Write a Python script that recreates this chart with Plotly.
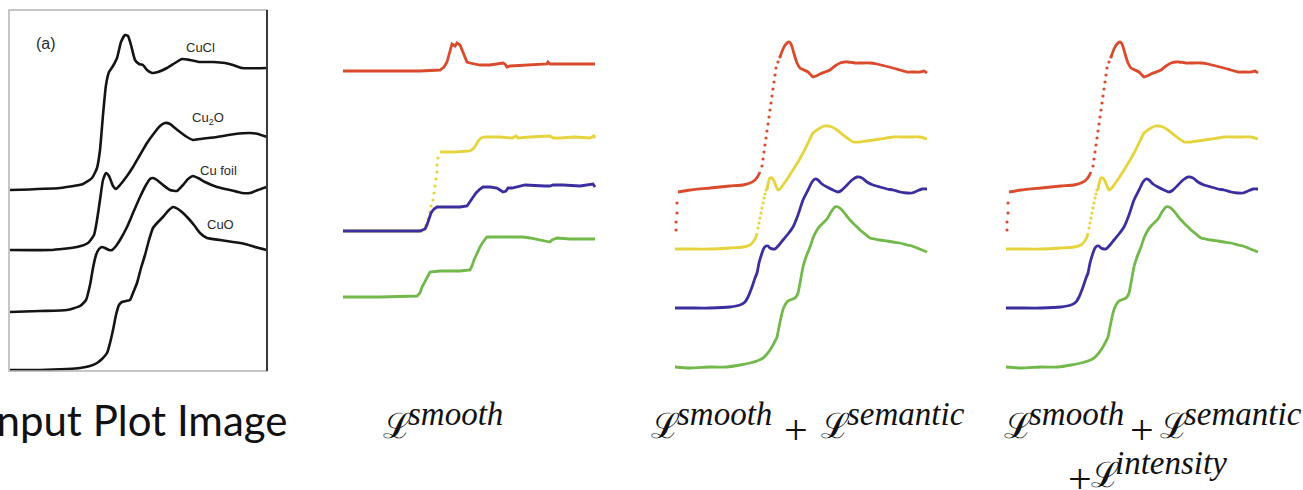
import plotly.graph_objects as go

W, H = 1303, 490

# ---------------- Panel 1: input plot (energy a.u. vs absorbance a.u.) ----------------
cucl_x = [10,60,83,92,97,100,103,106,109,113,117,121,125,128,131,135,139,143,147,152,158,167,175,182,190,200,213,225,233,242,267]
cucl_y = [190,192,196,202,212,230,265,295,308,314,322,338,345,344,335,320,316,315,310,307,308,312,317,321,320,318,318,317,315,312,312]

cu2o_x = [10,50,77,88,94,97,100,103,106,109,113,116,120,127,133,140,147,155,160,165,170,175,180,187,193,200,217,235,250,258,267]
cu2o_y = [130,130,133,137,145,160,180,200,207,204,194,191,195,204,213,225,237,248,254,257,256,252,248,243,240,241,243,246,247,246,243]

cufoil_x = [10,40,67,80,86,90,93,96,99,102,105,109,112,116,120,127,133,140,146,150,153,157,163,170,177,183,188,193,198,205,217,230,242,250,258,267]
cufoil_y = [68,69,70,74,80,95,112,125,131,133,132,130,130,134,140,153,167,183,195,201,202,200,195,190,189,195,201,204,202,198,193,190,187,187,190,193]

cuo_x = [10,40,67,80,90,97,102,107,110,113,116,119,122,126,130,133,137,141,145,149,153,158,163,168,173,178,183,188,194,200,207,220,233,245,255,267]
cuo_y = [10,10,11,12,14,17,21,27,37,50,65,75,78,79,80,87,97,112,125,140,152,158,163,169,173,171,167,162,155,147,142,140,138,136,133,130]

panel1_labels = ["(a)", "CuCl", "Cu<sub>2</sub>O", "Cu foil", "CuO"]

# ---------------- Panel 2: L_smooth ----------------
p2_red_x = [13,50,90,110,114,117,120,122,125,127,130,132,135,137,140,150,160,173,175,177,180,200,217,218,220,233,265]
p2_red_y = [309,309,309,310,313,318,330,336,334,337,335,330,323,318,317,315,315,317,316,313,314,315,316,318,316,316,316]

p2_yel_a_x = [13,50,93]
p2_yel_a_y = [149,149,149]
p2_yel_dots_x = [96,98,100,101,103,104,105,106,107,107,108]
p2_yel_dots_y = [155,161,168,174,180,187,194,201,208,215,222]
p2_yel_b_x = [110,125,140,143,146,148,151,155,170,182,186,188,200,217,220,223,230,245,260,264,265]
p2_yel_b_y = [228,228,229,231,235,239,242,243,243,242,244,242,243,244,244,242,242,243,242,244,242]

p2_blu_x = [13,50,90,95,97,99,101,104,107,120,130,137,140,143,146,150,153,160,167,170,173,176,178,182,190,195,215,220,223,233,250,260,263,265]
p2_blu_y = [149,149,149,151,155,161,167,171,173,173,173,174,178,183,187,191,193,193,192,190,188,189,192,192,194,195,194,194,195,195,194,195,196,193]

p2_grn_x = [13,50,87,90,92,95,98,100,110,130,140,142,144,147,150,153,157,170,193,200,210,220,222,227,240,265]
p2_grn_y = [83,83,84,87,93,99,105,108,109,109,110,114,120,127,133,138,143,143,143,142,140,138,140,142,141,141]

# ---------------- Panels 3 & 4: L_smooth + L_semantic (+ L_intensity) ----------------
p3_red_a_x = [18,30,50,70,83,90,95,98,100]
p3_red_a_y = [188,190,192,194,195,197,200,204,208]
p3_red_dots_x = [102,103,104,105,106,107,108,109,110,111,112,113,114,115,116,118,120]
p3_red_dots_y = [214,221,228,235,242,249,256,263,270,277,284,291,298,305,312,318,323]
p3_red_b_x = [120,123,126,129,131,133,135,137,140,144,148,151,153,156,160,165,170,175,180,185,188,195,200,210,217,225,233,240,247,253,260,264,267]
p3_red_b_y = [323,331,336,338,336,330,323,317,312,310,308,305,303,304,306,308,310,314,317,318,318,317,317,317,316,314,312,310,308,308,308,309,307]
p3_red_iso_x = [17,17,16,16]
p3_red_iso_y = [177,167,158,150]

p3_yel_a_x = [15,30,50,70,83,90,93,96,97]
p3_yel_a_y = [131,131,131,132,133,135,138,143,147]
p3_yel_dots_x = [98,99,100,101,102,103,104,105,106]
p3_yel_dots_y = [152,157,162,167,172,177,182,186,190]
p3_yel_b_x = [107,108,110,112,114,116,118,120,123,128,133,138,143,148,153,157,160,164,168,172,177,182,187,193,200,207,220,233,245,253,260,267]
p3_yel_b_y = [190,196,202,202,199,194,190,191,195,202,210,218,227,237,247,250,252,254,254,253,250,246,242,238,238,239,241,243,243,243,243,241]

p3_blu_x = [15,30,50,70,80,85,88,92,95,97,99,102,104,106,108,110,113,115,119,123,128,133,138,143,148,152,155,158,162,167,173,178,182,187,192,197,202,207,213,220,227,233,240,247,252,257,262,267]
p3_blu_y = [72,72,72,73,75,78,83,93,102,107,117,127,132,134,134,132,131,131,135,140,146,153,165,180,190,198,201,200,196,193,190,188,190,195,200,203,202,198,195,193,191,190,188,187,187,189,191,191]

p3_grn_x = [15,30,50,67,80,90,97,103,107,110,113,117,119,122,124,127,130,133,136,138,140,143,146,150,153,157,160,163,167,171,175,178,182,186,190,195,200,205,210,215,220,227,233,240,247,252,257,262,267]
p3_grn_y = [13,12,13,13,15,17,19,22,26,30,35,43,53,67,73,78,80,81,83,87,97,113,123,133,142,150,154,157,161,168,173,173,170,165,160,155,150,146,142,141,140,139,138,137,135,134,132,130,128]

# caption pieces: (kind, text, left pixel, row)
caption_pieces = [
    ("L", "ℒ", 382, 0), ("sup", "smooth", 407, 0),
    ("L", "ℒ", 650, 0), ("sup", "smooth", 676, 0), ("op", "+", 783, 0), ("L", "ℒ", 820, 0), ("sup", "semantic", 846, 0),
    ("L", "ℒ", 1003, 0), ("sup", "smooth", 1028, 0), ("op", "+", 1129, 0), ("L", "ℒ", 1159, 0), ("sup", "semantic", 1183, 0),
    ("op", "+", 1067, 1), ("L", "ℒ", 1090, 1), ("sup", "intensity", 1114, 1),
]

RED, YEL, BLU, GRN = "#da4a2c", "#e6d43e", "#3b2f9f", "#72b84b"

fig = go.Figure()


def line(x, y, color, ax, width=2.8, shape="spline"):
    fig.add_trace(go.Scatter(x=x, y=y, mode="lines", xaxis="x" + ax, yaxis="y" + ax,
                             line=dict(color=color, width=width, shape=shape, smoothing=0.5),
                             hoverinfo="skip", showlegend=False))


def dots(x, y, color, ax, size=3.2):
    fig.add_trace(go.Scatter(x=x, y=y, mode="markers", xaxis="x" + ax, yaxis="y" + ax,
                             marker=dict(color=color, size=size, line=dict(width=0)),
                             hoverinfo="skip", showlegend=False))


# panel 1
for xs, ys in [(cucl_x, cucl_y), (cu2o_x, cu2o_y), (cufoil_x, cufoil_y), (cuo_x, cuo_y)]:
    line(xs, ys, "#141414", "", width=2.6)

# panel 2
line(p2_red_x, p2_red_y, RED, "2", shape="linear")
line(p2_yel_a_x, p2_yel_a_y, YEL, "2", shape="linear")
dots(p2_yel_dots_x, p2_yel_dots_y, YEL, "2")
line(p2_yel_b_x, p2_yel_b_y, YEL, "2", shape="linear")
line(p2_blu_x, p2_blu_y, BLU, "2", shape="linear")
line(p2_grn_x, p2_grn_y, GRN, "2", shape="linear")

# panels 3 and 4
for ax in ["3", "4"]:
    line(p3_red_a_x, p3_red_a_y, RED, ax)
    dots(p3_red_dots_x, p3_red_dots_y, RED, ax)
    line(p3_red_b_x, p3_red_b_y, RED, ax)
    dots(p3_red_iso_x, p3_red_iso_y, RED, ax)
    line(p3_yel_a_x, p3_yel_a_y, YEL, ax)
    dots(p3_yel_dots_x, p3_yel_dots_y, YEL, ax)
    line(p3_yel_b_x, p3_yel_b_y, YEL, ax)
    line(p3_blu_x, p3_blu_y, BLU, ax)
    line(p3_grn_x, p3_grn_y, GRN, ax)


def fx(p):
    return p / W


def fy(p):
    return 1 - p / H


hidden = dict(visible=False, fixedrange=True)
layout = dict(
    width=W, height=H, margin=dict(l=0, r=0, t=0, b=0),
    paper_bgcolor="white", plot_bgcolor="rgba(0,0,0,0)", showlegend=False,
    xaxis=dict(domain=[fx(9), fx(267)], range=[9, 267], **hidden),
    yaxis=dict(domain=[fy(371), fy(10)], range=[9, 370], **hidden),
)
for ax, left in [("2", 330), ("3", 660), ("4", 991)]:
    layout["xaxis" + ax] = dict(domain=[fx(left), fx(left + 280)], range=[0, 280], anchor="y" + ax, **hidden)
    layout["yaxis" + ax] = dict(domain=[0, 1], range=[-110, 380], anchor="x" + ax, **hidden)
fig.update_layout(**layout)

# panel 1 frame (scanned figure border)
fig.add_shape(type="rect", xref="paper", yref="paper", x0=fx(9), x1=fx(267), y0=fy(371), y1=fy(10),
              line=dict(color="#b4b4b4", width=1.5))
fig.add_shape(type="line", xref="paper", yref="paper", x0=fx(267), x1=fx(267), y0=fy(371), y1=fy(10),
              line=dict(color="#3a3a3a", width=2))

ann = []
lab_pos = [(46, 44, 16), (200, 47, 13), (208, 118, 13), (218, 171, 13), (220, 225, 13)]
for t, (x, y, s) in zip(panel1_labels, lab_pos):
    ann.append(dict(text=t, x=fx(x), y=fy(y), xref="paper", yref="paper", showarrow=False,
                    xanchor="center", yanchor="middle",
                    font=dict(family="Liberation Sans, Arial", size=s, color="#2a2a2a")))

ann.append(dict(text="Input Plot Image", x=fx(289), y=fy(420), xref="paper", yref="paper",
                showarrow=False, xanchor="right", yanchor="middle",
                font=dict(family="Lato", size=42, color="#111111")))

styles = {
    "L": (dict(family="DejaVu Serif", size=35, color="#111111"), 426, ""),
    "sup": (dict(family="Liberation Serif", size=33, color="#111111"), 414, "i"),
    "op": (dict(family="Liberation Serif", size=42, color="#111111"), 430, ""),
}
for kind, txt, left, row in caption_pieces:
    f, yc, it = styles[kind]
    shown = "<i>" + txt + "</i>" if it else txt
    ann.append(dict(text=shown, x=fx(left), y=fy(yc + 49 * row), xref="paper", yref="paper",
                    showarrow=False, xanchor="left", yanchor="middle", font=f, borderpad=0))
fig.update_layout(annotations=ann)

fig.write_html("out.html", config={"displayModeBar": False},
               post_script="document.body.style.margin='0px';")
